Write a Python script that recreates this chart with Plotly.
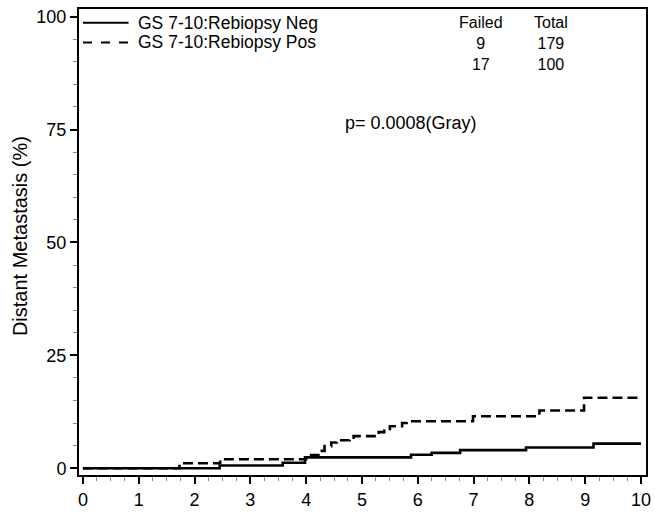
import plotly.graph_objects as go

# Data (cumulative incidence, %)
neg_years = [0, 2.45, 3.58, 3.98, 5.88, 6.25, 6.76, 7.94, 9.15, 10.0]
neg_pct = [0, 0.6, 1.2, 2.4, 3.0, 3.4, 4.0, 4.6, 5.45, 5.45]

pos_years = [0, 1.73, 2.46, 4.0, 4.22, 4.33, 4.45, 4.55, 4.78, 4.85, 5.30, 5.40,
             5.50, 5.72, 5.80, 6.99, 8.18, 8.98, 10.0]
pos_pct = [0, 1.1, 2.0, 2.9, 3.85, 4.9, 5.7, 6.2, 6.75, 7.1, 8.0, 8.7,
           9.3, 10.0, 10.4, 11.5, 12.8, 15.6, 15.6]

series_names = ["GS 7-10:Rebiopsy Neg", "GS 7-10:Rebiopsy Pos"]
failed = [9, 17]
total = [179, 100]
p_text = "p= 0.0008(Gray)"

x_ticks = list(range(0, 11))
y_ticks = [0, 25, 50, 75, 100]

FONT = "Liberation Sans, Arial, sans-serif"

fig = go.Figure()
fig.add_trace(go.Scatter(x=neg_years, y=neg_pct, mode="lines", line_shape="hv",
                         line=dict(color="black", width=2.6), name=series_names[0],
                         showlegend=False))
fig.add_trace(go.Scatter(x=pos_years, y=pos_pct, mode="lines", line_shape="hv",
                         line=dict(color="black", width=2.6, dash="10px,5px"),
                         name=series_names[1], showlegend=False))

# Manual legend (line samples + labels)
legend_y = [(483 - 23) / 474, (483 - 43) / 474]
dashes = ["solid", "dash"]
for i, nm in enumerate(series_names):
    fig.add_shape(type="line", xref="paper", yref="paper",
                  x0=4 / 572, x1=50 / 572, y0=legend_y[i], y1=legend_y[i],
                  line=dict(color="black", width=2, dash=dashes[i]))
    fig.add_annotation(xref="paper", yref="paper", x=58 / 572, y=legend_y[i],
                       text=nm, showarrow=False, xanchor="left", yanchor="middle",
                       font=dict(family=FONT, size=17.5, color="black"))

# Failed / Total table (one multi-line text per column)
tbl_x = [(485 - 79) / 572, (555 - 79) / 572]
col_text = [
    "Failed<br>" + "<br>".join(str(v) for v in failed),
    "Total<br>" + "<br>".join(str(v) for v in total),
]
for i in range(2):
    fig.add_annotation(xref="paper", yref="paper", x=tbl_x[i], y=(483 - 44) / 474,
                       text=col_text[i], showarrow=False, xanchor="center",
                       yanchor="middle", align="center",
                       font=dict(family=FONT, size=16, color="black"))

fig.add_annotation(xref="paper", yref="paper", x=(345 - 79) / 572, y=(483 - 125) / 474,
                   text=p_text, showarrow=False, xanchor="left", yanchor="middle",
                   font=dict(family=FONT, size=18, color="black"))

# Y-axis title
fig.add_annotation(xref="paper", yref="paper", x=0, y=(483 - 240) / 474,
                   xshift=-59, text="Distant Metastasis (%)", textangle=-90,
                   showarrow=False, xanchor="center", yanchor="middle",
                   font=dict(family=FONT, size=20, color="black"))

fig.update_layout(
    width=655, height=514,
    margin=dict(l=79, r=4, t=9, b=31),
    paper_bgcolor="white", plot_bgcolor="white",
    font=dict(family=FONT, size=18, color="black"),
    xaxis=dict(range=[-0.07, 10.09], tickvals=x_ticks, ticks="outside", ticklen=7,
               tickwidth=1.5, tickcolor="black", showline=True, linecolor="black",
               linewidth=2, mirror=True, showgrid=False, zeroline=False,
               tickfont=dict(family=FONT, size=18, color="black"),
               minor=dict(dtick=0.25, ticks="outside", ticklen=4, tickwidth=1,
                          tickcolor="#888", showgrid=False)),
    yaxis=dict(range=[-1.5, 101.7], tickvals=y_ticks, ticks="outside", ticklen=7,
               tickwidth=1.5, tickcolor="black", showline=True, linecolor="black",
               linewidth=2, mirror=True, showgrid=False, zeroline=False,
               tickfont=dict(family=FONT, size=18, color="black"),
               minor=dict(dtick=5, ticks="outside", ticklen=4, tickwidth=1,
                          tickcolor="#888", showgrid=False)),
)

fig.write_html("out.html")
